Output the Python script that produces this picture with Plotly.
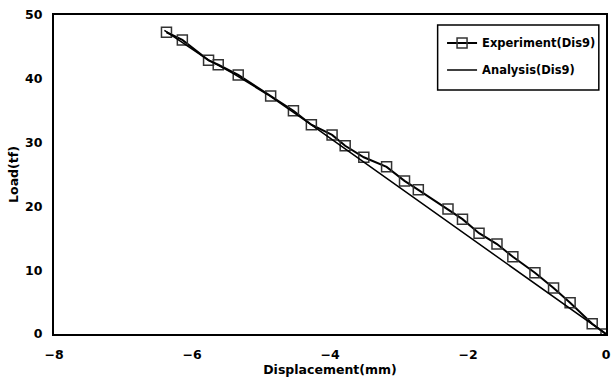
import plotly.graph_objects as go

exp_x = [-6.37, -6.14, -5.76, -5.62, -5.33, -4.86, -4.53, -4.27, -3.97, -3.78, -3.51,
         -3.18, -2.92, -2.72, -2.29, -2.08, -1.84, -1.58, -1.35, -1.03, -0.76, -0.52, -0.20, 0.0]
exp_y = [47.3, 46.1, 42.9, 42.2, 40.6, 37.3, 35.0, 32.8, 31.2, 29.5, 27.7,
         26.2, 24.0, 22.6, 19.6, 18.0, 15.8, 14.1, 12.1, 9.6, 7.2, 4.9, 1.6, 0.0]

ana_x = [0.0, -1.0, -2.0, -3.0, -3.86, -4.3, -4.9, -5.4, -5.8, -6.2, -6.4]
ana_y = [0.0, 7.7, 15.4, 23.1, 29.7, 33.0, 37.5, 40.8, 43.2, 46.2, 47.6]

x_ticks = [-8, -6, -4, -2, 0]
y_ticks = [0, 10, 20, 30, 40, 50]

font_fam = "DejaVu Sans, Verdana, sans-serif"
tick_font = dict(family=font_fam, size=12.5, color="black", weight="bold")

fig = go.Figure()
fig.add_trace(go.Scatter(
    x=exp_x, y=exp_y, mode="lines+markers", name="Experiment(Dis9)",
    legendgroup="a",
    line=dict(color="black", width=2),
    marker=dict(symbol="square-open", size=10, color="#333333", line=dict(width=1.5)),
))
fig.add_trace(go.Scatter(
    x=ana_x, y=ana_y, mode="lines", name="Analysis(Dis9)",
    legendgroup="b",
    line=dict(color="black", width=1.5),
))

axis_common = dict(
    showgrid=False, zeroline=False, showline=True, linecolor="black", linewidth=2,
    mirror=True, ticks="", tickfont=tick_font,
)
fig.update_xaxes(range=[-8, 0], tickvals=x_ticks, ticklabelstandoff=8,
                 title=dict(text="Displacement(mm)", standoff=0, font=tick_font),
                 **axis_common)
fig.update_yaxes(range=[0, 50], tickvals=y_ticks, ticklabelstandoff=7,
                 title=dict(text="Load(tf)", standoff=4, font=tick_font),
                 **axis_common)

fig.update_layout(
    width=614, height=380,
    margin=dict(l=54, r=3, t=15, b=46),
    plot_bgcolor="white", paper_bgcolor="white",
    showlegend=True,
    legend=dict(x=0.703, y=0.958, xanchor="left", yanchor="top",
                bgcolor="rgba(0,0,0,0)", borderwidth=0,
                itemwidth=30, tracegroupgap=8, traceorder="grouped",
                font=dict(family=font_fam, size=11.5, color="black", weight="bold")),
    shapes=[dict(type="rect", xref="paper", yref="paper",
                 x0=0.695, x1=0.987, y0=0.765, y1=0.969,
                 line=dict(color="black", width=1.5), fillcolor="white", layer="below")],
)

fig.write_html("out.html")
